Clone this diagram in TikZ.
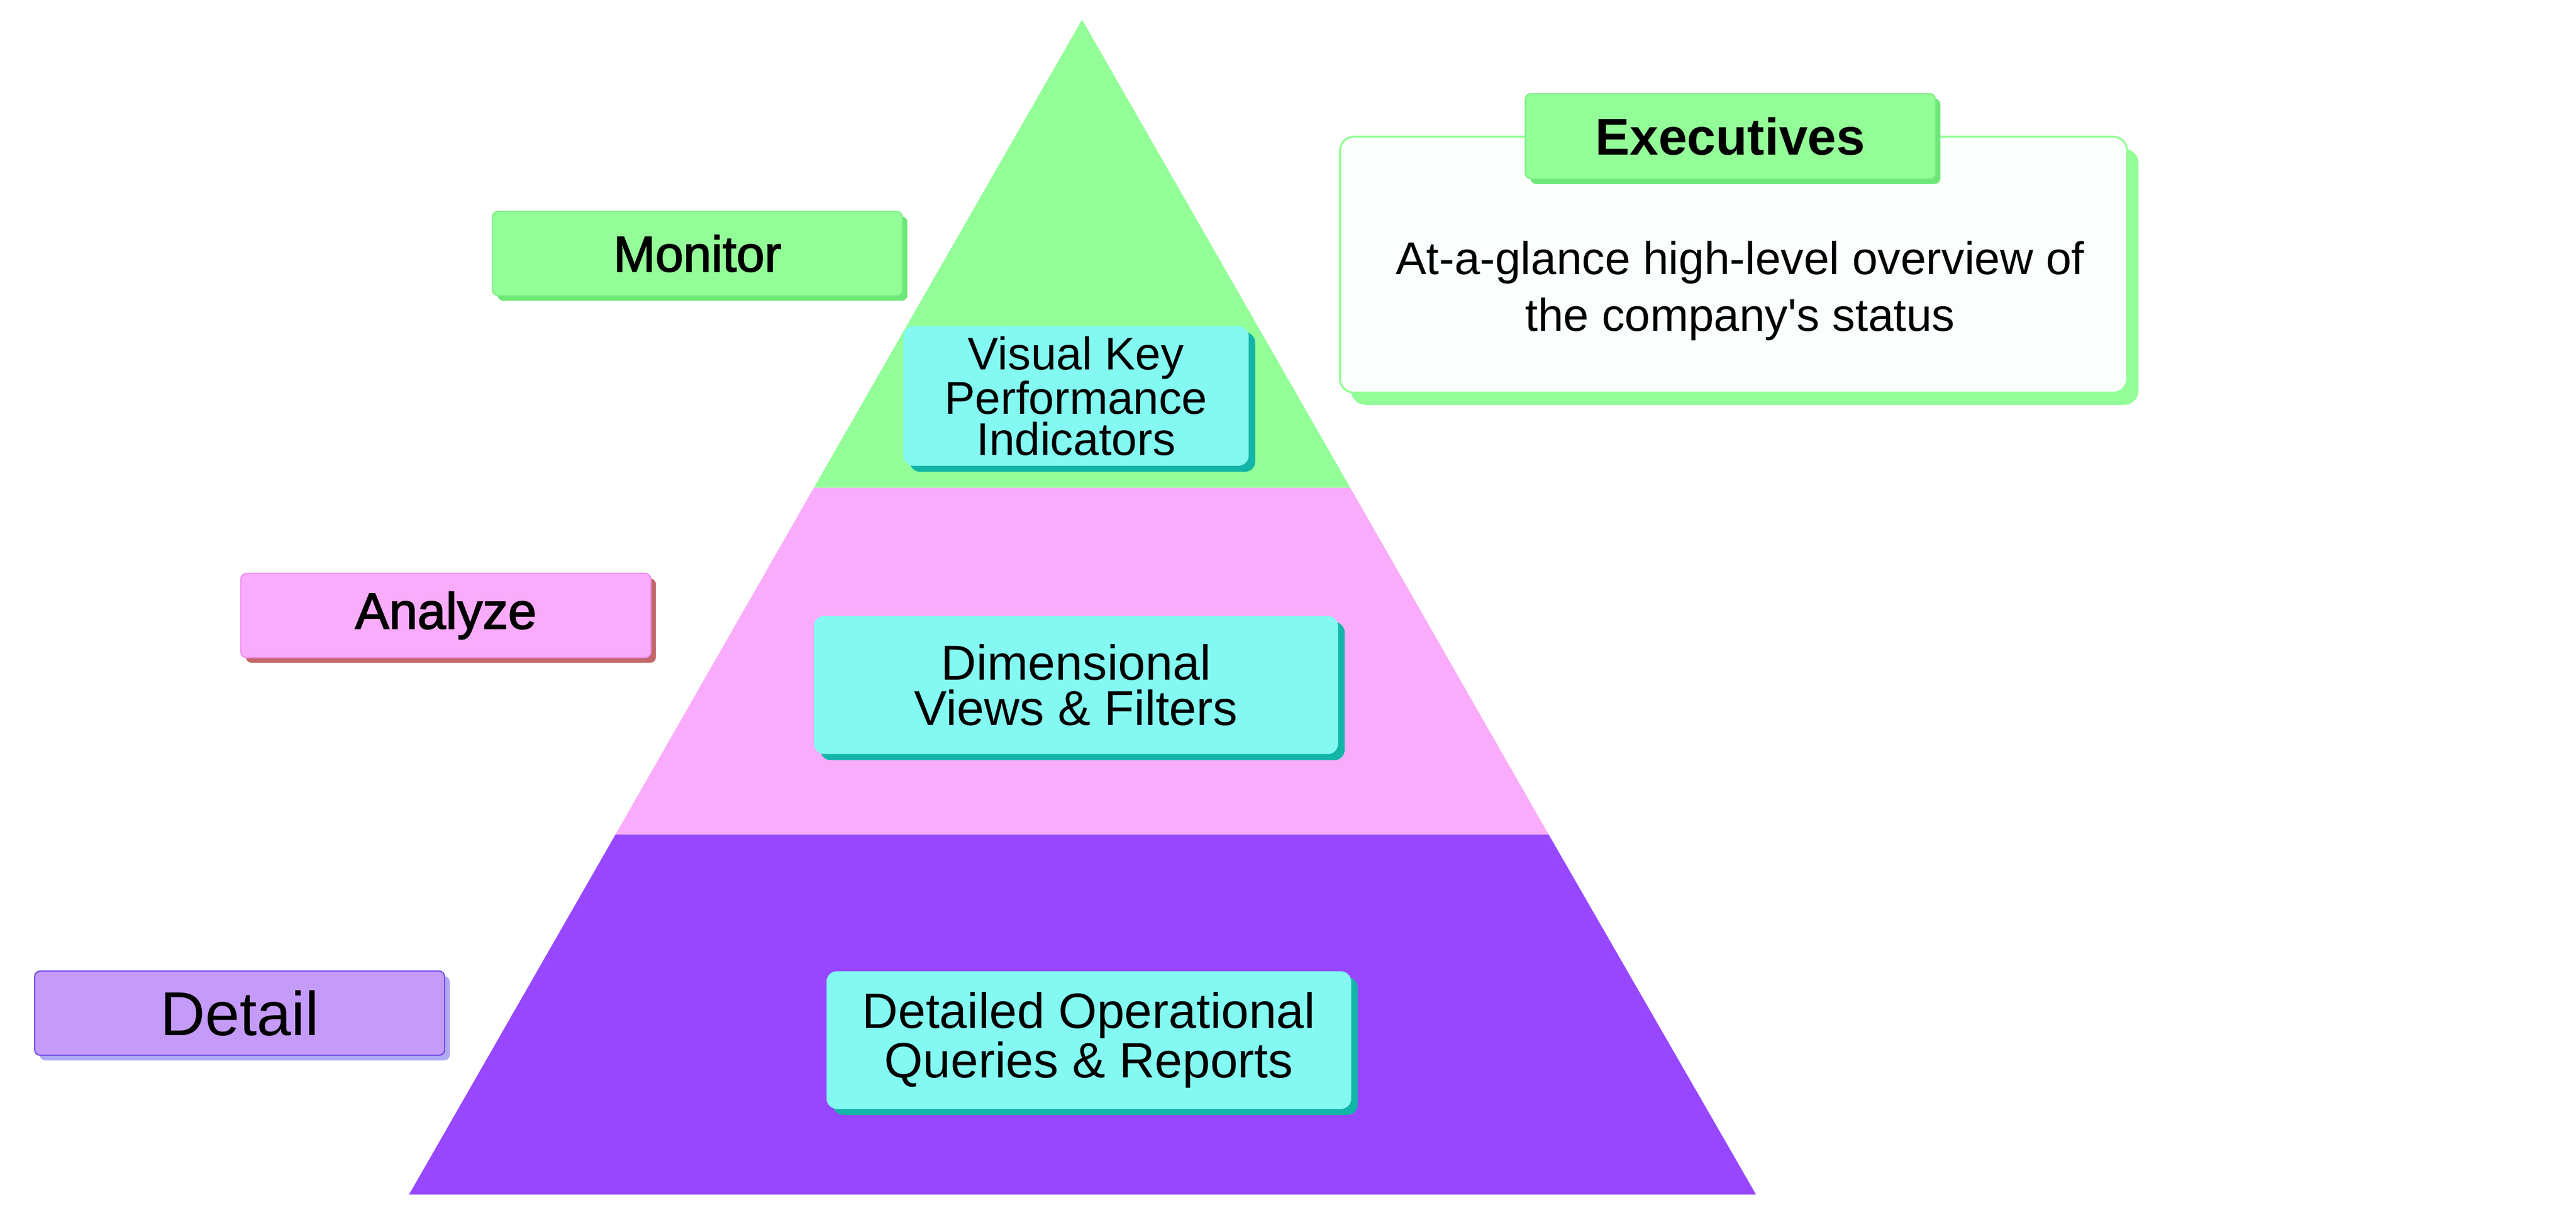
\documentclass[tikz,border=0pt]{standalone}
\usepackage{fontspec}
\setmainfont{Liberation Sans}[Ligatures=TeXOff]
\newfontfamily\medfont[FakeBold=2]{Liberation Sans}
\usetikzlibrary{shadows}
\definecolor{pyrgreen}{HTML}{93FD98}
\definecolor{greenedge}{HTML}{7DEE87}
\definecolor{greenshadow}{HTML}{6DE878}
\definecolor{pyrpink}{HTML}{F9ACFB}
\definecolor{pinkedge}{HTML}{F08CF2}
\definecolor{pinkshadow}{HTML}{C26868}
\definecolor{pyrpurple}{HTML}{9747FF}
\definecolor{cyanbox}{HTML}{83F9F1}
\definecolor{tealshadow}{HTML}{13B5A8}
\definecolor{notewhite}{HTML}{FAFFFE}
\definecolor{detailfill}{HTML}{C59BF9}
\definecolor{detailedge}{HTML}{6B48E8}
\definecolor{detailshadow}{HTML}{AEA9F3}

\begin{document}
\begin{tikzpicture}[
	tagbox/.style={rounded corners=0.12cm, minimum width=8.76cm, minimum height=1.80cm, inner sep=0pt, line width=0.7pt},
	cardbox/.style={rounded corners=0.22cm, fill=cyanbox, inner sep=0pt, align=center,
		drop shadow={shadow xshift=0.14cm, shadow yshift=-0.13cm, fill=tealshadow, opacity=1}},
	solidshadow/.style={drop shadow={shadow xshift=0.11cm, shadow yshift=-0.11cm, fill=#1, opacity=1}}
	]
	\useasboundingbox (0,0) rectangle (55.04,26.32);
	
	%Pyramid
	\fill[pyrgreen] (23.12,25.90) -- (28.85,15.90) -- (17.39,15.90) -- cycle;
	\fill[pyrpink] (17.39,15.90) -- (28.85,15.90) -- (33.09,8.49) -- (13.15,8.49) -- cycle;
	\fill[pyrpurple] (13.15,8.49) -- (33.09,8.49) -- (37.52,0.80) -- (8.74,0.80) -- cycle;
	
	%Boxes inside the pyramid
	\node[cardbox, minimum width=7.38cm, minimum height=2.98cm, font=\fontsize{27.9}{25}\selectfont] (kpi) at (22.99,17.86) {Visual Key\\Performance\\Indicators};
	\node[cardbox, minimum width=11.20cm, minimum height=2.95cm, font=\fontsize{29.8}{27.6}\selectfont] (views) at (22.99,11.685) {Dimensional\\Views \& Filters};
	\node[cardbox, minimum width=11.21cm, minimum height=2.94cm, font=\fontsize{30.2}{29.9}\selectfont] (queries) at (23.265,4.10) {Detailed Operational\\Queries \& Reports};
	
	%Level tags
	\node[tagbox, fill=pyrgreen, draw=greenedge, solidshadow=greenshadow, font=\medfont\fontsize{30.6}{34}\selectfont] (monitor) at (14.90,20.905) {Monitor};
	\node[tagbox, fill=pyrpink, draw=pinkedge, solidshadow=pinkshadow, font=\medfont\fontsize{31}{34}\selectfont] (analyze) at (9.525,13.17) {Analyze};
	\node[tagbox, fill=detailfill, draw=detailedge, solidshadow=detailshadow, font=\fontsize{37.7}{40}\selectfont] (detail) at (5.12,4.675) {Detail};
	
	%Executives note
	\node[rounded corners=0.3cm, fill=notewhite, draw=pyrgreen, line width=1.2pt, minimum width=16.82cm, minimum height=5.47cm, inner sep=0pt,
		drop shadow={shadow xshift=0.24cm, shadow yshift=-0.26cm, fill=pyrgreen, opacity=1}] (note) at (37.04,20.665) {};
	\node[align=center, font=\fontsize{27.9}{34.4}\selectfont] (overview) at (37.18,20.11) {At-a-glance high-level overview of\\the company's status};
	\node[tagbox, fill=pyrgreen, draw=greenedge, solidshadow=greenshadow, minimum height=1.82cm, font=\bfseries\fontsize{31.4}{34}\selectfont] (exec) at (36.97,23.41) {Executives};
\end{tikzpicture}
\end{document}
